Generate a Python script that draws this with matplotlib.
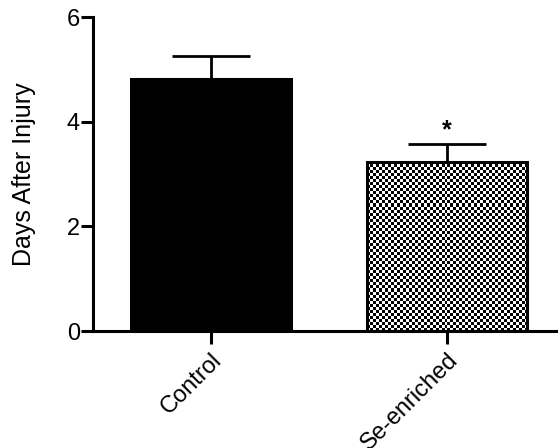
import numpy as np
import matplotlib.pyplot as plt

plt.rcParams['font.family'] = ['Liberation Sans', 'DejaVu Sans']

groups = ["Control", "Se-enriched"]
means = [4.82, 3.23]
sems = [0.44, 0.34]
stars = ["", "*"]

fig = plt.figure(figsize=(5.58, 4.48), dpi=100)
ax = fig.add_axes([0.1667, 0.261, 0.8333, 0.701])

x = np.arange(len(groups))
bars = ax.bar(x, means, width=0.68, color=["black", "white"],
              edgecolor="black", linewidth=2.2, zorder=2)

# checkerboard fill for the second bar
b = bars[1]
cells = np.indices((56, 54)).sum(axis=0) % 2
im = ax.imshow(cells, cmap="gray", interpolation="nearest", aspect="auto",
               extent=[b.get_x(), b.get_x() + b.get_width(), 0, b.get_height()],
               zorder=2.5)
im.set_clip_path(b)
b.set_zorder(3)
b.set_facecolor("none")

ax.errorbar(x, means, yerr=[np.zeros(len(sems)), sems], fmt="none",
            ecolor="black", elinewidth=2, capsize=28, capthick=2, zorder=1)

for xi, m, s, st in zip(x, means, sems, stars):
    if st:
        ax.text(xi, m + s + 0.03, st, ha="center", va="bottom",
                fontsize=18, fontweight="bold")

ax.set_xlim(-0.5, 1.47)
ax.set_ylim(0, 6)
ax.set_yticks([0, 2, 4, 6])
ax.set_xticks(x)
ax.set_xticklabels(groups, rotation=45, ha="right", rotation_mode="anchor",
                   fontsize=18.5)
ax.set_ylabel("Days After Injury", fontsize=18, labelpad=22)

for side in ["top", "right"]:
    ax.spines[side].set_visible(False)
for side in ["left", "bottom"]:
    ax.spines[side].set_linewidth(2.2)
ax.tick_params(width=2.2, length=9, labelsize=17, pad=0.5)
ax.tick_params(axis="x", pad=4)

fig.savefig("out.png", dpi=100)
